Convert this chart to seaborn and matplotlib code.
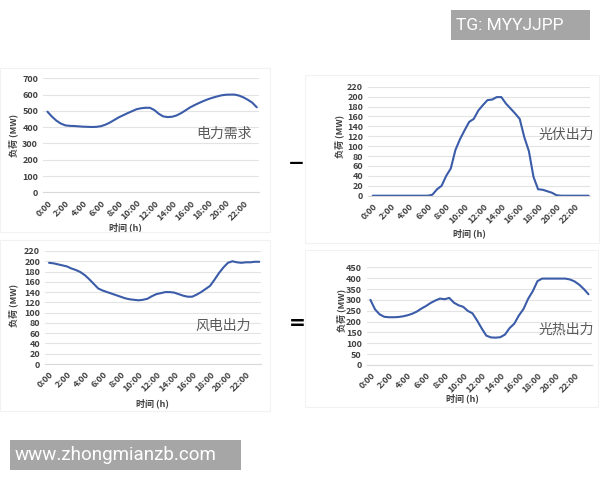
import matplotlib
matplotlib.use("Agg")
import matplotlib.pyplot as plt
import matplotlib.patches as mpatches
import numpy as np
import pandas as pd
import seaborn as sns

# ---------------- data (half-hourly, 0:00 .. 23:30) ----------------
hours = [h * 0.5 for h in range(48)]

demand = [495, 465, 440, 422, 411, 408, 407, 405, 403, 402, 401, 402,
          406, 415, 428, 444, 460, 473, 486, 498, 510, 516, 519, 519,
          505, 482, 466, 462, 464, 472, 486, 503, 521, 535, 548, 560,
          571, 580, 588, 595, 599, 600, 600, 594, 583, 568, 550, 522]

solar_pv = [0, 0, 0, 0, 0, 0, 0, 0, 0, 0, 0, 0,
            0, 2, 13, 20, 40, 55, 92, 114, 132, 149, 155, 172,
            183, 193, 194, 199, 199, 186, 176, 166, 155, 118, 90, 38,
            13, 12, 9, 6, 1, 0, 0, 0, 0, 0, 0, 0]

wind = [197, 196, 194, 192, 190, 186, 183, 179, 173, 165, 156, 147,
        143, 140, 137, 134, 131, 128, 126, 125, 124, 125, 127, 132,
        136, 138, 140, 140, 139, 136, 133, 131, 131, 135, 140, 146,
        152, 164, 177, 188, 197, 200, 198, 197, 198, 198, 199, 199]

solar_thermal = [300, 256, 233, 222, 220, 220, 221, 224, 229, 236, 246, 260,
                 272, 286, 297, 306, 303, 309, 287, 275, 268, 249, 238, 205,
                 168, 135, 127, 126, 128, 140, 170, 190, 228, 258, 305, 340,
                 386, 398, 398, 398, 398, 398, 398, 394, 385, 370, 350, 326]

tick_hours = list(range(0, 24, 2))
tick_labels = [f"{h}:00" for h in tick_hours]

titles = ["电力需求", "光伏出力", "风电出力", "光热出力"]
ylabel = "负荷 (MW)"
xlabel = "时间 (h)"

# ---------------- style ----------------
sns.set_theme(style="white")
plt.rcParams["font.family"] = ["Noto Sans CJK SC", "DejaVu Sans"]

LINE = "#3B5CA8"
GRID = "#E3E3E3"
TXT = "#404040"

W, H = 600, 480
fig = plt.figure(figsize=(6, 4.8), dpi=100)
fig.patch.set_facecolor("white")


def fx(x):
    return x / W


def fy(y):
    return 1 - y / H


# faint chart-area frames
for (x0, y0, x1, y1) in [(0, 68, 270, 232), (305, 75, 599, 243),
                         (0, 240, 270, 411), (305, 250, 598, 407)]:
    fig.add_artist(mpatches.Rectangle((fx(x0), fy(y1)), fx(x1) - fx(x0), fy(y0) - fy(y1),
                                      transform=fig.transFigure, facecolor="none",
                                      edgecolor="#F2F2F2", linewidth=0.8))

panels = [
    # values, x0, x1, ytop, ybot, ymax, ystep, xlim, ylabel xy, xlabel xy, title xy
    (demand, 43, 259, 78.3, 192.3, 700, 100, (-0.5, 23.75), (13, 135), (125, 227), (224, 134)),
    (solar_pv, 368, 590, 86.7, 195.7, 220, 20, (-0.51, 23.65), (339, 136), (469, 233), (566, 135)),
    (wind, 45, 261, 251, 364, 220, 20, (-0.45, 23.7), (13, 305), (152, 403), (223, 326)),
    (solar_thermal, 366.7, 591.7, 267.3, 365, 450, 50, (-0.4, 23.85), (341.5, 310), (462, 398), (566, 330)),
]

for i, (vals, x0, x1, yt, yb, ymax, ystep, xl, ylxy, xlxy, txy) in enumerate(panels):
    ax = fig.add_axes([fx(x0), fy(yb), fx(x1) - fx(x0), fy(yt) - fy(yb)])
    df = pd.DataFrame({"hour": hours, "value": vals})
    sns.lineplot(data=df, x="hour", y="value", ax=ax, color=LINE, linewidth=1.5)
    ax.set_xlim(*xl)
    ax.set_ylim(0, ymax)
    ax.set_yticks(np.arange(0, ymax + 1, ystep))
    ax.set_xticks(tick_hours)
    ax.set_xticklabels(tick_labels, rotation=45, ha="right", rotation_mode="anchor")
    ax.set_xticks(range(24), minor=True)
    ax.grid(axis="y", color=GRID, linewidth=0.8)
    ax.set_axisbelow(True)
    for s in ["top", "right", "left"]:
        ax.spines[s].set_visible(False)
    ax.spines["bottom"].set_color("#D9D9D9")
    ax.spines["bottom"].set_linewidth(0.8)
    ax.tick_params(axis="y", length=0, pad=3.5, labelsize=6.5, labelcolor=TXT)
    ax.tick_params(axis="x", which="major", length=2.5, color="#D9D9D9", pad=2,
                   labelsize=6.5, labelcolor=TXT)
    ax.tick_params(axis="x", which="minor", length=2.5, color="#D9D9D9")
    for lab in ax.get_xticklabels() + ax.get_yticklabels():
        lab.set_fontweight("bold")
    ax.set_ylabel(ylabel, fontsize=6.5, fontweight="bold", color=TXT)
    ax.set_xlabel(xlabel, fontsize=6.5, fontweight="bold", color=TXT)
    ax.yaxis.set_label_coords(fx(ylxy[0]), fy(ylxy[1]), transform=fig.transFigure)
    ax.xaxis.set_label_coords(fx(xlxy[0]), fy(xlxy[1]), transform=fig.transFigure)
    ax.xaxis.label.set_verticalalignment("center")
    ax.yaxis.label.set_verticalalignment("center")
    fig.text(fx(txy[0]), fy(txy[1]), titles[i], fontsize=10, color="#595959",
             ha="center", va="center")

# operators
fig.text(fx(296.5), fy(164), "−", fontsize=14.5, fontweight="bold", color="black",
         ha="center", va="center", family="DejaVu Sans")
fig.text(fx(297.5), fy(324), "=", fontsize=14.5, fontweight="bold", color="black",
         ha="center", va="center", family="DejaVu Sans")

# watermark boxes
fig.add_artist(mpatches.Rectangle((fx(451), fy(40)), fx(139), 30 / H,
                                  transform=fig.transFigure, facecolor="#A6A6A6",
                                  edgecolor="none"))
fig.text(fx(456), fy(25), "TG: MYYJJPP", fontsize=12.5, color="white",
         ha="left", va="center", family="Roboto")
fig.add_artist(mpatches.Rectangle((fx(10), fy(470)), fx(231), 30 / H,
                                  transform=fig.transFigure, facecolor="#A6A6A6",
                                  edgecolor="none"))
fig.text(fx(15), fy(455), "www.zhongmianzb.com", fontsize=13.5, color="white",
         ha="left", va="center", family="Roboto")

fig.savefig("out.png", dpi=100, facecolor="white")
